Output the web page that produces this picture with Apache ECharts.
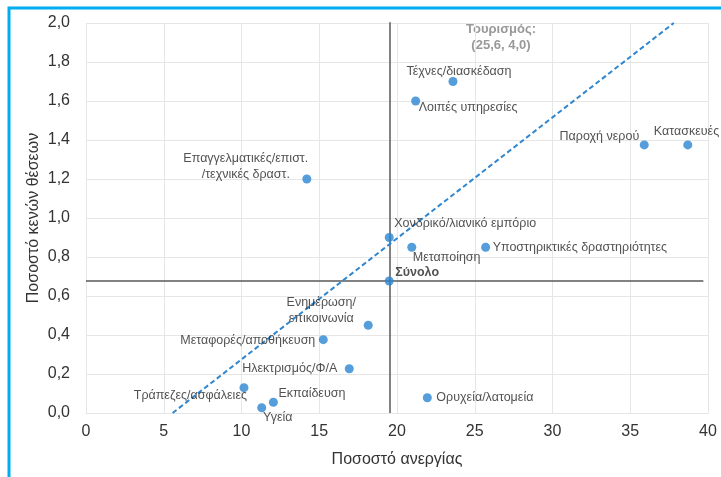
<!DOCTYPE html>
<html lang="el">
<head>
<meta charset="UTF-8">
<title>Ανεργία και κενές θέσεις</title>
<script src="https://cdn.jsdelivr.net/npm/echarts@6/dist/echarts.min.js"></script>
<style>
  html, body { margin: 0; padding: 0; background: #fff; }
  #main { width: 721px; height: 477px; }
</style>
</head>
<body>
<div id="main"></div>
<script>
// κλάδοι, ποσοστό ανεργίας (x), ποσοστό κενών θέσεων (y)
var sectors = ['Τέχνες/διασκέδαση', 'Λοιπές υπηρεσίες', 'Παροχή νερού', 'Κατασκευές',
    'Επαγγελματικές/επιστ.\n/τεχνικές δραστ.', 'Χονδρικό/λιανικό εμπόριο', 'Μεταποίηση',
    'Υποστηρικτικές δραστηριότητες', 'Σύνολο', 'Ενημέρωση/\nεπικοινωνία', 'Μεταφορές/αποθήκευση',
    'Ηλεκτρισμός/Φ/Α', 'Τράπεζες/ασφάλειες', 'Εκπαίδευση', 'Υγεία', 'Ορυχεία/λατομεία'];
var unemployment = [23.6, 21.2, 35.9, 38.7, 14.2, 19.5, 20.95, 25.7, 19.5, 18.15, 15.26, 16.93, 10.16, 12.05, 11.3, 21.95];
var vacancies = [1.70, 1.60, 1.375, 1.375, 1.20, 0.90, 0.85, 0.85, 0.677, 0.45, 0.376, 0.227, 0.13, 0.055, 0.027, 0.078];

// γραμμή τάσης (δύο άκρα) και γραμμές αναφοράς του συνόλου
var trendX = [5.57, 37.8];
var trendY = [0, 2.0];
var totalX = 19.55;
var totalY = 0.677;

var R = 4.5; // μισό μέγεθος συμβόλου
// θέση ετικέτας σε σχέση με το κέντρο του σημείου
var labelPos = [
    [6, -10, 'center'], [3, 7, 'left'], [-5, -8, 'right'], [-34, -13, 'left'],
    [-61, -12, 'center'], [5, -14, 'left'], [1, 10, 'left'], [7, 0, 'left'],
    [6, -8, 'left'], [-47, -15, 'center'], [-8, 1, 'right'], [-12, 0, 'right'],
    [3, 8, 'right'], [5, -9, 'left'], [16, 10, 'center'], [9, 0, 'left']
];

var points = [];
for (var i = 0; i < sectors.length; i++) {
    var p = labelPos[i];
    points.push({
        name: sectors[i],
        value: [unemployment[i], vacancies[i]],
        label: {
            show: true,
            formatter: '{b}',
            position: [p[0] + R, p[1] + R],
            align: p[2],
            verticalAlign: 'middle',
            fontWeight: sectors[i] === 'Σύνολο' ? 'bold' : 'normal'
        }
    });
}

var chart = echarts.init(document.getElementById('main'));
var font = '"Liberation Sans", Arial, sans-serif';

chart.setOption({
    animation: false,
    textStyle: { fontFamily: font },
    grid: { left: 86, right: 13, top: 23, bottom: 64 },
    xAxis: {
        type: 'value', min: 0, max: 40, interval: 5,
        name: 'Ποσοστό ανεργίας', nameLocation: 'middle', nameGap: 39,
        nameTextStyle: { fontSize: 16, color: '#333', fontFamily: font },
        axisLine: { show: true, lineStyle: { color: '#e6e6e6' } },
        axisTick: { show: false },
        axisLabel: { fontSize: 16, color: '#333', margin: 11 },
        splitLine: { lineStyle: { color: '#e6e6e6' } }
    },
    yAxis: {
        type: 'value', min: 0, max: 2, interval: 0.2,
        name: 'Ποσοστό κενών θέσεων', nameLocation: 'middle', nameGap: 44,
        nameMoveOverlap: false,
        nameTextStyle: { fontSize: 16, color: '#333', fontFamily: font },
        axisLine: { show: false },
        axisTick: { show: false },
        axisLabel: {
            fontSize: 16, color: '#333', margin: 16,
            formatter: function (v) { return v.toFixed(1).replace('.', ','); }
        },
        splitLine: { lineStyle: { color: '#e6e6e6' } }
    },
    graphic: [
        {
            type: 'rect', silent: true,
            shape: { x: 9, y: 8, width: 760, height: 520 },
            style: { fill: 'none', stroke: '#00AEEF', lineWidth: 3 }
        },
        {
            type: 'text', x: 501, y: 37, silent: true,
            style: {
                text: 'Τουρισμός:\n(25,6, 4,0)', fill: '#999', font: 'bold 13px ' + font,
                align: 'center', verticalAlign: 'middle', lineHeight: 16
            }
        }
    ],
    series: [
        {
            type: 'line', name: 'refV', silent: true, symbol: 'none',
            data: [[totalX, 0], [totalX, 2.02]],
            lineStyle: { color: '#595959', width: 1.5 }, z: 1
        },
        {
            type: 'line', name: 'refH', silent: true, symbol: 'none',
            data: [[0, totalY], [39.7, totalY]],
            lineStyle: { color: '#595959', width: 1.5 }, z: 1
        },
        {
            type: 'line', name: 'trend', silent: true, symbol: 'none',
            data: [[trendX[0], trendY[0]], [trendX[1], trendY[1]]],
            lineStyle: { color: '#2E86D0', width: 2, type: [5, 3] }, z: 2
        },
        {
            type: 'scatter', name: 'sectors',
            symbolSize: 2 * R,
            itemStyle: { color: '#2A86D2' },
            label: { color: '#262626', fontSize: 12.5, lineHeight: 16, fontFamily: font },
            data: points, z: 3
        }
    ]
});
</script>
</body>
</html>
